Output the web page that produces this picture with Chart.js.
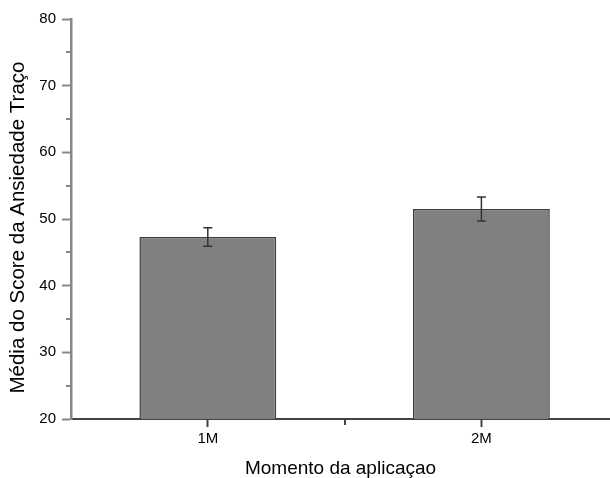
<!DOCTYPE html>
<html>
<head>
<meta charset="utf-8">
<script src="https://cdn.jsdelivr.net/npm/chart.js@4"></script>
<style>
  html, body { margin: 0; padding: 0; background: #fff; }
</style>
</head>
<body>
<canvas id="chart" width="610" height="478"></canvas>
<script>
const categories = ['1M', '2M']
const positions = [1, 2]
const means = [47.3, 51.5]
const errors = [1.4, 1.8]
const yTicks = [20, 30, 40, 50, 60, 70, 80]
const yMinorTicks = [25, 35, 45, 55, 65, 75]
const xMinorTicks = [1.5]

const FONT = "'Liberation Sans', Arial, sans-serif"

// error bars + minor ticks drawn through the chart scales
const errorBarPlugin = {
  id: 'errorBars',
  afterDatasetsDraw(chart) {
    const { ctx, scales: { x, y } } = chart
    ctx.save()
    ctx.strokeStyle = '#333'
    ctx.lineWidth = 1.5
    means.forEach((m, i) => {
      const px = x.getPixelForValue(positions[i])
      const top = y.getPixelForValue(m + errors[i])
      const bot = y.getPixelForValue(m - errors[i])
      ctx.beginPath()
      ctx.moveTo(px, top); ctx.lineTo(px, bot)
      ctx.moveTo(px - 4.5, top); ctx.lineTo(px + 4.5, top)
      ctx.moveTo(px - 4.5, bot); ctx.lineTo(px + 4.5, bot)
      ctx.stroke()
    })
    ctx.strokeStyle = '#888'
    ctx.lineWidth = 2
    yMinorTicks.forEach(v => {
      const py = Math.round(y.getPixelForValue(v))
      ctx.beginPath()
      ctx.moveTo(y.right - 5, py); ctx.lineTo(y.right, py)
      ctx.stroke()
    })
    ctx.strokeStyle = '#444'
    xMinorTicks.forEach(v => {
      const px = Math.round(x.getPixelForValue(v))
      ctx.beginPath()
      ctx.moveTo(px, x.top); ctx.lineTo(px, x.top + 6)
      ctx.stroke()
    })
    ctx.restore()
  }
}

const ctx = document.getElementById('chart').getContext('2d')
new Chart(ctx, {
  type: 'bar',
  data: {
    datasets: [{
      data: positions.map((p, i) => ({ x: p, y: means[i] })),
      backgroundColor: '#808080',
      borderColor: '#3c3c3c',
      borderWidth: 1.5,
      barPercentage: 0.5,
      categoryPercentage: 1
    }]
  },
  options: {
    responsive: false,
    animation: false,
    layout: { padding: { top: 19, left: 0, right: 0, bottom: 0 } },
    plugins: { legend: { display: false }, tooltip: { enabled: false } },
    scales: {
      x: {
        type: 'linear',
        offset: false,
        min: 0.5,
        max: 2.47,
        afterBuildTicks: scale => { scale.ticks = positions.map(v => ({ value: v })) },
        afterFit: scale => { scale.height = 59 },
        grid: { offset: false, drawOnChartArea: false, drawTicks: true, tickLength: 8, tickColor: '#444', tickWidth: 2 },
        border: { display: true, color: '#444', width: 2 },
        ticks: {
          padding: 3,
          color: '#000',
          font: { family: FONT, size: 15 },
          maxRotation: 0,
          callback: v => categories[positions.indexOf(v)] ?? ''
        },
        title: {
          display: true,
          text: 'Momento da aplicaçao',
          color: '#000',
          font: { family: FONT, size: 19, lineHeight: 1 },
          padding: { top: 0, bottom: 0 }
        }
      },
      y: {
        min: 20,
        max: 80,
        afterBuildTicks: scale => { scale.ticks = yTicks.map(v => ({ value: v })) },
        afterFit: scale => { scale.width = 71 },
        grid: { drawOnChartArea: false, drawTicks: true, tickLength: 9, tickColor: '#888', tickWidth: 2 },
        border: { display: true, color: '#888', width: 2.5 },
        ticks: {
          padding: 6,
          color: '#000',
          font: { family: FONT, size: 15 }
        },
        title: {
          display: true,
          // trailing spaces nudge the visible text down a little, like the original
          text: 'Média do Score da Ansiedade Traço   ',
          color: '#000',
          font: { family: FONT, size: 20.5, lineHeight: 1 },
          padding: { top: 8, bottom: 0 }
        }
      }
    }
  },
  plugins: [errorBarPlugin]
})
</script>
</body>
</html>
